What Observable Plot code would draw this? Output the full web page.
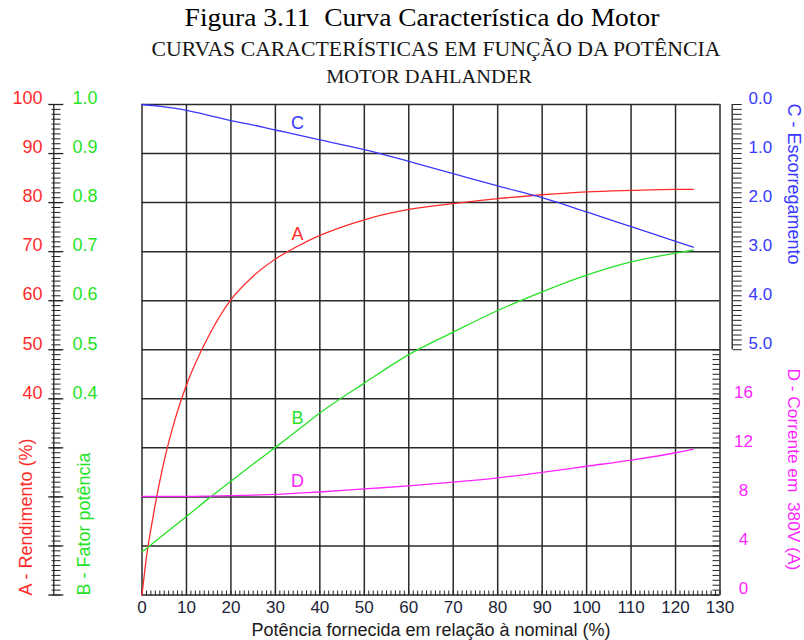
<!DOCTYPE html>
<html>
<head>
<meta charset="utf-8">
<script src="https://cdn.jsdelivr.net/npm/d3@7"></script>
<script src="https://cdn.jsdelivr.net/npm/@observablehq/plot@0.6"></script>
<style>
  body { margin: 0; background: #fff; }
  #page { position: relative; width: 804px; height: 640px; overflow: hidden; }
  #titles { position: relative; width: 804px; height: 90px; }
  #titles div { position: absolute; white-space: pre; line-height: 1; font-family: "Liberation Serif", "Times New Roman", serif; }
  #t1 { left: 422px; top: 5px; font-size: 25px; color: #000; transform: translateX(-50%) scaleX(1.1); }
  #t2 { left: 436px; top: 39px; font-size: 21px; color: #151515; transform: translateX(-50%) scaleX(1.036); }
  #t3 { left: 429px; top: 67px; font-size: 19px; color: #151515; transform: translateX(-50%) scaleX(1.075); }
  svg { display: block; }
</style>
</head>
<body>
<div id="page">
  <div id="titles">
    <div id="t1">Figura 3.11  Curva Característica do Motor</div>
    <div id="t2">CURVAS CARACTERÍSTICAS EM FUNÇÃO DA POTÊNCIA</div>
    <div id="t3">MOTOR DAHLANDER</div>
  </div>
  <div id="chart"></div>
</div>
<script>
// Potência fornecida (% da nominal)
const potencia = [0, 1, 2.5, 5, 7.5, 10, 15, 20, 25, 30, 35, 40, 50, 60, 70, 80, 90, 100, 110, 120, 124];
// A - Rendimento (%)
const rendimento = [0, 7.7, 16, 27.4, 36, 42.8, 52.8, 60.2, 65, 68.5, 71.1, 73.3, 76.5, 78.6, 79.8, 80.8, 81.6, 82.2, 82.5, 82.7, 82.7];
// B - Fator de potência
const fatorPotencia = [0.088, 0.095, 0.106, 0.124, 0.142, 0.160, 0.197, 0.232, 0.267, 0.301, 0.336, 0.371, 0.432, 0.490, 0.536, 0.580, 0.618, 0.652, 0.679, 0.697, 0.703];
// C - Escorregamento
const escorregamento = [0.00, 0.01, 0.02, 0.05, 0.08, 0.12, 0.22, 0.33, 0.42, 0.52, 0.62, 0.72, 0.92, 1.16, 1.41, 1.66, 1.90, 2.19, 2.49, 2.79, 2.91];
// D - Corrente em 380V (A)
const corrente = [8.05, 8.05, 8.05, 8.05, 8.05, 8.05, 8.07, 8.1, 8.15, 8.2, 8.3, 8.4, 8.65, 8.9, 9.2, 9.55, 10.0, 10.5, 11.0, 11.6, 11.9];

// tick values of each scale
const potenciaTicks = d3.range(0, 131, 10);
const rendimentoTicks = [40, 50, 60, 70, 80, 90, 100];
const fatorTicks = [0.4, 0.5, 0.6, 0.7, 0.8, 0.9, 1.0];
const escorregamentoTicks = [0, 1, 2, 3, 4, 5];
const correnteTicks = [0, 4, 8, 12, 16];
const curveNames = ["A", "B", "C", "D"];
const labelAt = 35; // potência where each curve letter is written

// every curve shares one vertical scale 0–100 (the rendimento scale)
const toY = {
  A: v => v,
  B: v => v * 100,
  C: v => 100 - 10 * v,
  D: v => v * 2.5
};
const series = {A: rendimento, B: fatorPotencia, C: escorregamento, D: corrente};
const colors = {A: "#ff2b2b", B: "#27e327", C: "#3838ff", D: "#ff24ff"};

const rows = curveNames.flatMap(k => potencia.map((p, i) => ({k, p, y: toY[k](series[k][i])})));
const labels = rows.filter(d => d.p === labelAt);

const gridColor = "#2a2a2a";
const W = 804, H = 550;
const mL = 141.5, mR = 84.5, mT = 14, mB = 45.5;
const frameW = W - mL - mR, frameH = H - mT - mB;
const sans = "'Liberation Sans', Arial, sans-serif";

const chart = Plot.plot({
  width: W,
  height: H,
  marginLeft: mL,
  marginRight: mR,
  marginTop: mT,
  marginBottom: mB,
  x: {domain: [0, 130]},
  y: {domain: [0, 100]},
  style: {fontFamily: sans, background: "#fff", overflow: "visible"},
  marks: [
    // grid and frame
    Plot.gridX(potenciaTicks, {stroke: gridColor, strokeOpacity: 1, strokeWidth: 1.5}),
    Plot.gridY(d3.range(0, 101, 10), {stroke: gridColor, strokeOpacity: 1, strokeWidth: 1.5}),

    // minor ticks along the bottom edge, pointing into the plot
    Plot.axisX(d3.range(0, 131, 1), {anchor: "top", tickSize: 5, fill: "none", stroke: "#222", dy: frameH, label: null}),
    // potência labels
    Plot.axisX(potenciaTicks, {anchor: "bottom", tickSize: 0, tickPadding: 6, fontSize: 17, fill: "#1b2438", label: null}),

    // left ruler (rendimento / fator de potência)
    Plot.ruleX([0], {y1: () => 0, y2: () => 100, dx: -88.2, stroke: "#222", strokeWidth: 1.3}),
    Plot.axisY(d3.range(0, 101, 1), {anchor: "left", tickSize: 9, dx: -81, fill: "none", stroke: "#222", label: null}),
    Plot.axisY(d3.range(0, 101, 10), {anchor: "left", tickSize: 15, dx: -78.2, fill: "none", stroke: "#222", strokeWidth: 1.3, label: null}),
    Plot.axisY(rendimentoTicks, {anchor: "left", tickSize: 0, tickPadding: 0, dx: 42 - mL, dy: -6, fontSize: 18, fill: colors.A, label: null}),
    Plot.axisY(fatorTicks.map(toY.B), {anchor: "right", tickSize: 0, tickPadding: 0, dx: 72 - (W - mR), dy: -6, fontSize: 18, fill: colors.B, tickFormat: v => (v / 100).toFixed(1), label: null}),

    // right ruler (escorregamento)
    Plot.ruleX([130], {y1: () => 50, y2: () => 100, dx: 12.2, stroke: "#222", strokeWidth: 1.3}),
    Plot.axisY(d3.range(50, 101, 1), {anchor: "right", tickSize: 9, dx: 12.2, fill: "none", stroke: "#222", label: null}),
    Plot.axisY(escorregamentoTicks.map(toY.C), {anchor: "right", tickSize: 0, tickPadding: 0, dx: 28.5, dy: -6, fontSize: 17, fill: colors.C, tickFormat: v => ((100 - v) / 10).toFixed(1), label: null}),

    // corrente ruler on the right edge of the frame
    Plot.axisY(d3.range(0, 51, 1), {anchor: "left", tickSize: 7, dx: frameW, fill: "none", stroke: "#222", label: null}),
    Plot.axisY(correnteTicks.map(toY.D), {anchor: "right", tickSize: 0, tickPadding: 0, dx: 23.5, dy: -6, fontSize: 17, fill: colors.D, textAnchor: "middle", tickFormat: v => String(Math.round(v / 2.5)), label: null}),

    // curves
    ...curveNames.map(k => Plot.line(rows.filter(d => d.k === k), {x: "p", y: "y", stroke: colors[k], strokeWidth: 1.3, curve: "monotone-x"})),
    Plot.text(labels, {x: "p", y: "y", text: "k", dy: -12, fill: d => colors[d.k], fontSize: 18}),

    // axis titles
    Plot.text(["A - Rendimento (%)"], {frameAnchor: "bottom-left", rotate: -90, textAnchor: "start", lineAnchor: "bottom", dx: 31.5 - mL, dy: 0.5, fill: colors.A, fontSize: 18}),
    Plot.text(["B - Fator potência"], {frameAnchor: "bottom-left", rotate: -90, textAnchor: "start", lineAnchor: "bottom", dx: 89 - mL, dy: 0.5, fill: colors.B, fontSize: 18}),
    Plot.text(["C - Escorregamento"], {frameAnchor: "top-right", rotate: 90, textAnchor: "start", lineAnchor: "bottom", dx: 68.2, dy: -1, fill: colors.C, fontSize: 18}),
    Plot.text(["D - Corrente em  380V (A)"], {frameAnchor: "top-right", rotate: 90, textAnchor: "start", lineAnchor: "bottom", dx: 68.2, dy: 264, fill: colors.D, fontSize: 17.3}),
    Plot.text(["Potência fornecida em relação à nominal (%)"], {frameAnchor: "bottom", lineAnchor: "bottom", dy: 41, fill: "#1a1a1a", fontSize: 18})
  ]
});
document.getElementById("chart").appendChild(chart);
</script>
</body>
</html>
